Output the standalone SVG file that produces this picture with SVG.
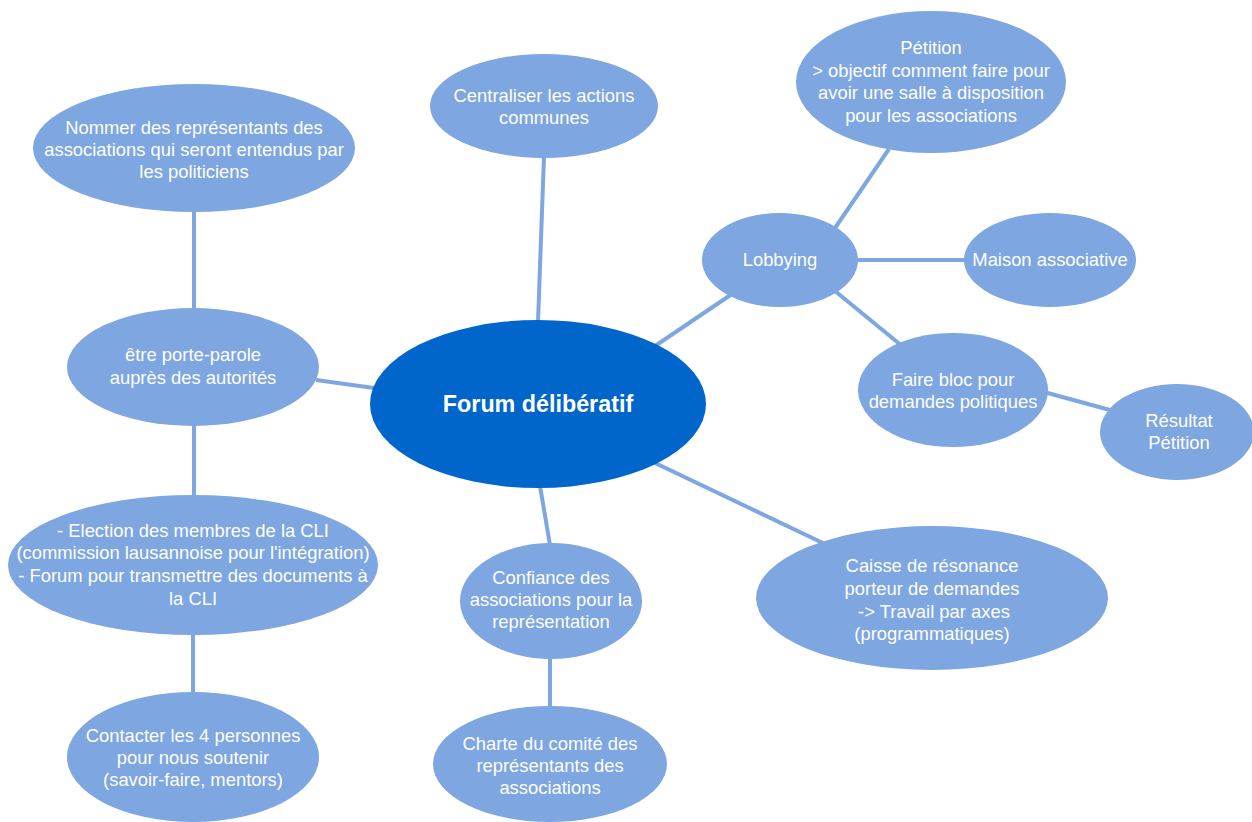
<svg xmlns="http://www.w3.org/2000/svg" width="1252" height="822" viewBox="0 0 1252 822">
<style>
.n{fill:#7ea6e0}
.c{fill:#0066cc}
.t{font-family:"Liberation Sans",Arial,sans-serif;font-size:18.4px;fill:#fff;text-anchor:middle}
.tc{font-family:"Liberation Sans",Arial,sans-serif;font-size:23.3px;font-weight:bold;fill:#fff;text-anchor:middle}
#edges line{stroke:#7ea6e0;stroke-width:4}
</style>
<rect width="1252" height="822" fill="#fff"/>
<g id="edges">
<line x1="538" y1="322" x2="544" y2="156"/>
<line x1="655" y1="346" x2="732" y2="294"/>
<line x1="835" y1="228" x2="889" y2="149"/>
<line x1="856" y1="260" x2="966" y2="260"/>
<line x1="835" y1="291" x2="902" y2="346"/>
<line x1="1044" y1="392" x2="1110" y2="410"/>
<line x1="653" y1="462" x2="825" y2="544"/>
<line x1="540" y1="486" x2="550" y2="545"/>
<line x1="550" y1="657" x2="550" y2="709"/>
<line x1="374" y1="388" x2="316" y2="380"/>
<line x1="194" y1="310" x2="194" y2="211"/>
<line x1="194" y1="424" x2="194" y2="497"/>
<line x1="193" y1="633" x2="193" y2="694"/>
</g>
<g id="center"><ellipse class="c" cx="538" cy="404" rx="168" ry="84"/><text class="tc" x="538" y="412">Forum délibératif</text></g>
<g id="centraliser"><ellipse class="n" cx="544" cy="106" rx="114" ry="52"/><text class="t" x="544" y="102">Centraliser les actions</text><text class="t" x="544" y="124">communes</text></g>
<g id="petition"><ellipse class="n" cx="931" cy="82" rx="135" ry="71"/><text class="t" x="931" y="54">Pétition</text><text class="t" x="931" y="77">&gt; objectif comment faire pour</text><text class="t" x="931" y="99">avoir une salle à disposition</text><text class="t" x="931" y="122">pour les associations</text></g>
<g id="nommer"><ellipse class="n" cx="194" cy="148" rx="161" ry="64"/><text class="t" x="194" y="134">Nommer des représentants des</text><text class="t" x="194" y="156">associations qui seront entendus par</text><text class="t" x="194" y="178">les politiciens</text></g>
<g id="lobbying"><ellipse class="n" cx="780" cy="260" rx="78" ry="47"/><text class="t" x="780" y="266">Lobbying</text></g>
<g id="maison"><ellipse class="n" cx="1050" cy="260" rx="86" ry="47"/><text class="t" x="1050" y="266">Maison associative</text></g>
<g id="porteparole"><ellipse class="n" cx="193" cy="367" rx="126" ry="59"/><text class="t" x="193" y="361">être porte-parole</text><text class="t" x="193" y="384">auprès des autorités</text></g>
<g id="fairebloc"><ellipse class="n" cx="953" cy="390" rx="95" ry="57"/><text class="t" x="953" y="386">Faire bloc pour</text><text class="t" x="953" y="408">demandes politiques</text></g>
<g id="resultat"><ellipse class="n" cx="1177" cy="432" rx="77" ry="48"/><text class="t" x="1179" y="427">Résultat</text><text class="t" x="1179" y="449">Pétition</text></g>
<g id="election"><ellipse class="n" cx="193" cy="565" rx="185" ry="70"/><text class="t" x="193" y="537">- Election des membres de la CLI</text><text class="t" x="193" y="559">(commission lausannoise pour l'intégration)</text><text class="t" x="193" y="582">- Forum pour transmettre des documents à</text><text class="t" x="193" y="605">la CLI</text></g>
<g id="confiance"><ellipse class="n" cx="551" cy="601" rx="91" ry="58"/><text class="t" x="551" y="584">Confiance des</text><text class="t" x="551" y="606">associations pour la</text><text class="t" x="551" y="628">représentation</text></g>
<g id="caisse"><ellipse class="n" cx="932" cy="598" rx="176" ry="72"/><text class="t" x="932" y="572">Caisse de résonance</text><text class="t" x="932" y="595">porteur de demandes</text><text class="t" x="934" y="618">-&gt; Travail par axes</text><text class="t" x="932" y="640">(programmatiques)</text></g>
<g id="contacter"><ellipse class="n" cx="193" cy="757" rx="126" ry="65"/><text class="t" x="193" y="742">Contacter les 4 personnes</text><text class="t" x="193" y="764">pour nous soutenir</text><text class="t" x="193" y="786">(savoir-faire, mentors)</text></g>
<g id="charte"><ellipse class="n" cx="550" cy="764" rx="117" ry="58"/><text class="t" x="550" y="750">Charte du comité des</text><text class="t" x="550" y="772">représentants des</text><text class="t" x="550" y="794">associations</text></g>
</svg>
